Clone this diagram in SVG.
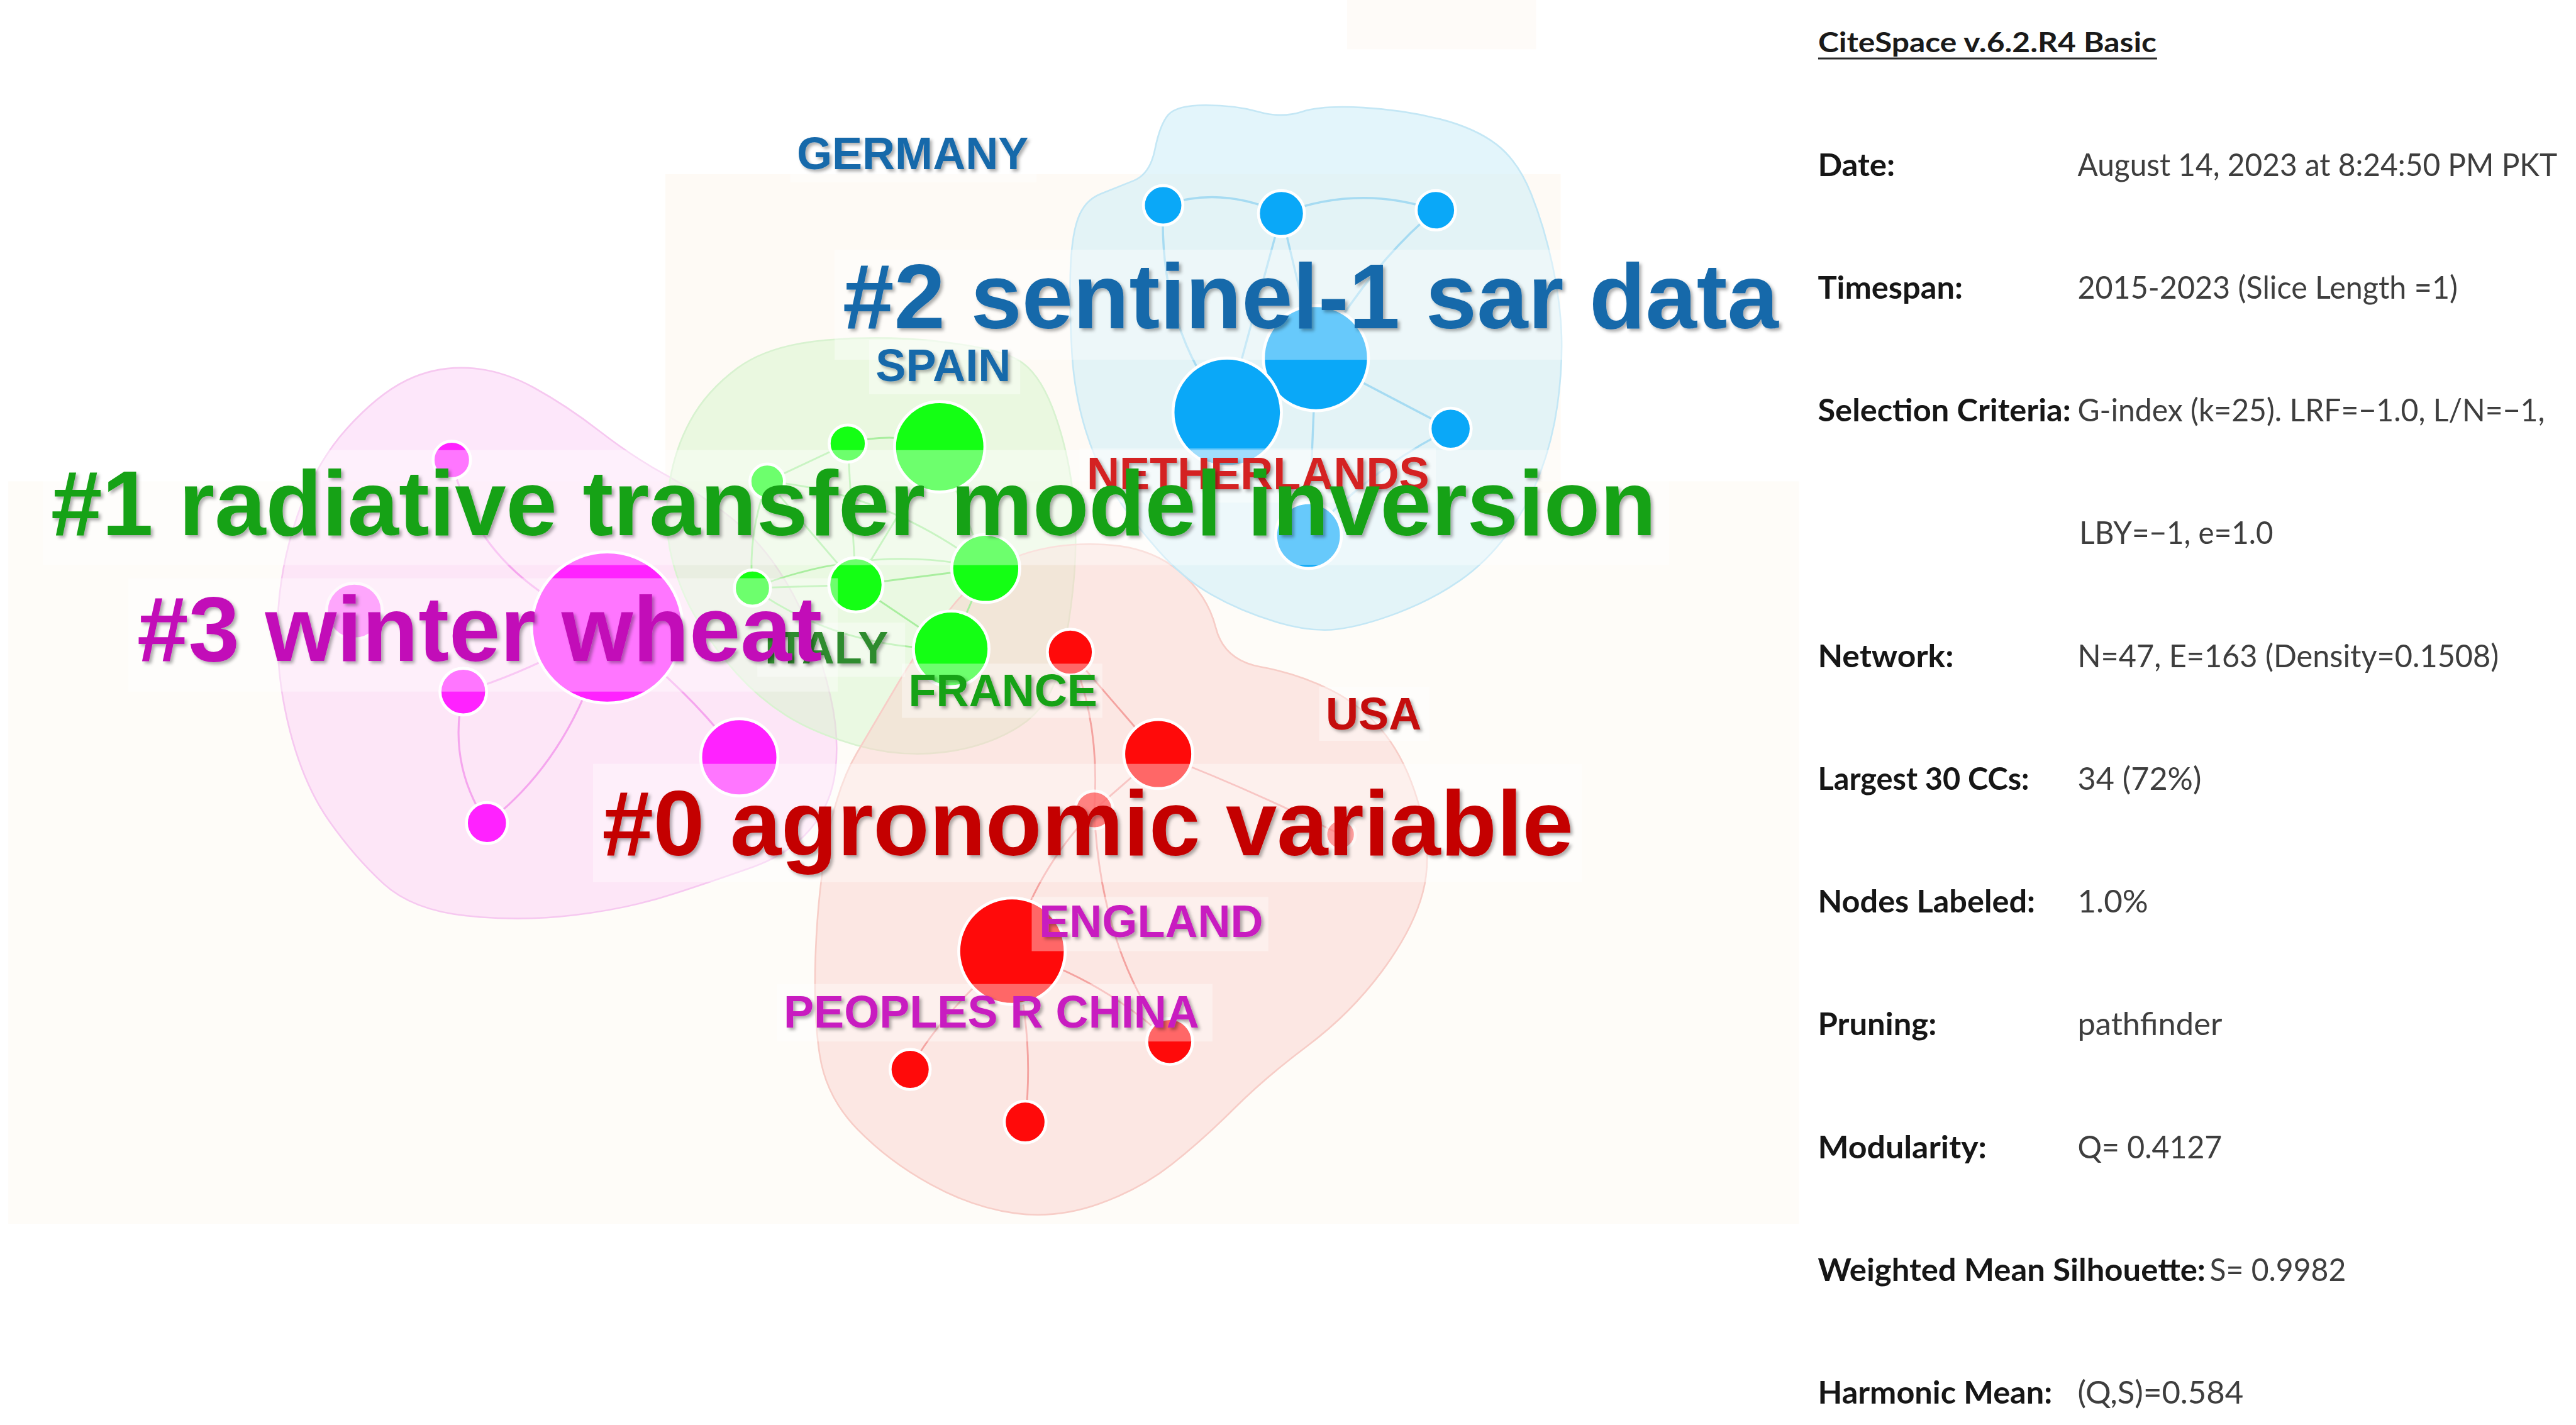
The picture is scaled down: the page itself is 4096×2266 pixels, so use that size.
<svg xmlns="http://www.w3.org/2000/svg" width="4096" height="2266" viewBox="0 0 4096 2266">
<defs>
<style>
.hull{stroke-width:1}
.eb{fill:none;stroke:#a6dbf2;stroke-width:1.3}
.eg{fill:none;stroke:#a9ee9f;stroke-width:1.1}
.ep{fill:none;stroke:#f5a6ee;stroke-width:1.2}
.er{fill:none;stroke:#f4a3a0;stroke-width:1.1}
.nb{fill:#0aa8f8;stroke:#fff;stroke-width:1.8}
.ng{fill:#14ff14;stroke:#fff;stroke-width:1.8}
.np{fill:#ff22ff;stroke:#fff;stroke-width:1.8}
.nr{fill:#ff0a0a;stroke:#fff;stroke-width:1.8}
.lbox{fill:#fff;opacity:0.38}
.big{font-family:'Liberation Sans',Arial,sans-serif;font-weight:bold;font-size:56px;filter:url(#sh)}
.sm{font-family:'Liberation Sans',Arial,sans-serif;font-weight:bold;font-size:27.6px;filter:url(#sh)}
.k{font-family:Lato,'Liberation Sans',sans-serif;font-weight:bold;font-size:19.2px;fill:#161616}
.v{font-family:Lato,'Liberation Sans',sans-serif;font-size:19.2px;fill:#3e3e3e}
</style>
<filter id="sh" x="-5%" y="-30%" width="110%" height="160%">
<feDropShadow dx="1.4" dy="1.4" stdDeviation="1" flood-color="#000" flood-opacity="0.32"/>
</filter>
</defs>
<rect width="4096" height="2266" fill="#ffffff"/>
<g transform="scale(2.61224)">
<g id="background">
<rect x="405" y="106" width="545" height="194" fill="#fbefdd" opacity="0.3"/>
<rect x="5" y="293" width="1090" height="452" fill="#fbf0df" opacity="0.22"/>
<rect x="820" y="0" width="115" height="30" fill="#fbefdd" opacity="0.22"/>
</g>
<g id="hulls">
<path id="hull-pink" class="hull" fill="#fbd0f5" fill-opacity="0.5" stroke="#f6c8f0" d="M211,261 Q230,240 247.5,231.5 Q265,223 285,224 Q305,225 325,236 Q345,247 365,262.5 Q385,278 405,289 Q425,300 441.5,312.5 Q458,325 470,341.5 Q482,358 491,379 Q500,400 505.5,424 Q511,448 508.5,469 Q506,490 493,505 Q480,520 459,527.5 Q438,535 410.5,544 Q383,553 350,557 Q317,561 284,557.5 Q251,554 233.5,538 Q216,522 200.5,500 Q185,478 176.5,445 Q168,412 169,379 Q170,346 181,314 Q192,282 211,261 Z"/>
<path id="hull-green" class="hull" fill="#d6f5cc" fill-opacity="0.5" stroke="#d8f2d0" d="M420,256.5 Q430,238 449,224 Q468,210 503,207 Q538,204 572.5,208 Q607,212 619.5,219 Q632,226 640.5,248 Q649,270 652.5,296 Q656,322 654,348.5 Q652,375 646,402.5 Q640,430 620,442.5 Q600,455 573.5,458 Q547,461 521,453.5 Q495,446 478.5,435.5 Q462,425 448.5,410 Q435,395 424.5,377.5 Q414,360 409,340 Q404,320 407,297.5 Q410,275 420,256.5 Z"/>
<path id="hull-red" class="hull" fill="#fbd2cc" fill-opacity="0.48" stroke="#f7cdc7" d="M581,367.5 Q600,345 622.5,337.5 Q645,330 672.5,331.5 Q700,333 717.5,347.5 Q735,362 740,382 Q745,402 767.5,406 Q790,410 810,420 Q830,430 843.5,447.5 Q857,465 864.5,493 Q872,521 866,543.5 Q860,566 841,591.5 Q822,617 796,636.5 Q770,656 751,675 Q732,694 713,709 Q694,724 668.5,733 Q643,742 617.5,738.5 Q592,735 566.5,721 Q541,707 522,687.5 Q503,668 499,642.5 Q495,617 496.5,579 Q498,541 504,509.5 Q510,478 521.5,458.5 Q533,439 547.5,414.5 Q562,390 581,367.5 Z"/>
<path id="hull-blue" class="hull" fill="#c8ebf8" fill-opacity="0.5" stroke="#c4e7f5" d="M703,91 Q706,76 711,70 Q716,64 734,64 Q752,64 766,68 Q780,72 792.5,68 Q805,64 830,65.5 Q855,67 876.5,72.5 Q898,78 911,88 Q924,98 932,118 Q940,138 945,161.5 Q950,185 950.5,205 Q951,225 948,246.5 Q945,268 937.5,288 Q930,308 917.5,325 Q905,342 888.5,353.5 Q872,365 851,373 Q830,381 814,383 Q798,385 776.5,378.5 Q755,372 737.5,362 Q720,352 705,335 Q690,318 679,301.5 Q668,285 661,262.5 Q654,240 652.5,215 Q651,190 651.5,167.5 Q652,145 656,133.5 Q660,122 670,118 Q680,114 690,110 Q700,106 703,91 Z"/>
</g>
<g id="connectors">
<path class="eb" d="M708,125 Q744,113 780,130"/>
<path class="eb" d="M780,130 Q827,112 874,128"/>
<path class="eb" d="M708,125 Q705,200 747,251"/>
<path class="eb" d="M780,130 L747,251"/>
<path class="eb" d="M780,130 L801,218"/>
<path class="eb" d="M874,128 Q835,160 801,218"/>
<path class="eb" d="M801,218 L883,261"/>
<path class="eb" d="M801,218 L796.5,326"/>
<path class="eb" d="M883,261 Q835,285 796.5,326"/>
<path class="eg" d="M467,293 L516,270"/>
<path class="eg" d="M467,293 Q455,325 458,358"/>
<path class="eg" d="M467,293 L521,356"/>
<path class="eg" d="M516,270 L521,356"/>
<path class="eg" d="M516,270 Q545,262 572,272"/>
<path class="eg" d="M572,272 L521,356"/>
<path class="eg" d="M572,272 L600,346"/>
<path class="eg" d="M458,358 L521,356"/>
<path class="eg" d="M458,358 Q530,330 600,346"/>
<path class="eg" d="M458,358 Q510,395 579,395"/>
<path class="eg" d="M521,356 L600,346"/>
<path class="eg" d="M521,356 L579,395"/>
<path class="eg" d="M600,346 L579,395"/>
<path class="eg" d="M467,293 Q540,300 600,346"/>
<path class="ep" d="M275,280 Q290,350 369.6,382"/>
<path class="ep" d="M369.6,382 Q320,410 282,421"/>
<path class="ep" d="M282,421 Q272,465 296.4,501"/>
<path class="ep" d="M369.6,382 Q350,460 296.4,501"/>
<path class="ep" d="M369.6,382 Q420,420 450,461"/>
<path class="er" d="M651.5,397 L705,459"/>
<path class="er" d="M651.5,397 Q670,440 666,493"/>
<path class="er" d="M705,459 L666,493"/>
<path class="er" d="M705,459 Q760,480 816,508"/>
<path class="er" d="M666,493 Q630,530 616,579"/>
<path class="er" d="M666,493 Q670,580 712,634"/>
<path class="er" d="M616,579 Q670,595 712,634"/>
<path class="er" d="M616,579 Q570,620 554,651"/>
<path class="er" d="M616,579 Q630,630 624,683"/>
</g>
<g id="nodes">
<g id="node-b1"><circle class="nb" cx="708" cy="125" r="12"/></g>
<g id="node-b2"><circle class="nb" cx="780" cy="130" r="14"/></g>
<g id="node-b3"><circle class="nb" cx="874" cy="128" r="12"/></g>
<g id="node-b4"><circle class="nb" cx="801" cy="218" r="32"/></g>
<g id="node-b5"><circle class="nb" cx="747" cy="251" r="33"/></g>
<g id="node-b6"><circle class="nb" cx="883" cy="261" r="12.5"/></g>
<g id="node-b7"><circle class="nb" cx="796.5" cy="326" r="20"/></g>
<g id="node-g1"><circle class="ng" cx="516" cy="270" r="11.3"/></g>
<g id="node-g2"><circle class="ng" cx="572" cy="272" r="27.5"/></g>
<g id="node-g3"><circle class="ng" cx="467" cy="293" r="10.5"/></g>
<g id="node-g4"><circle class="ng" cx="600" cy="346" r="20.7"/></g>
<g id="node-g5"><circle class="ng" cx="521" cy="356" r="16.5"/></g>
<g id="node-g6"><circle class="ng" cx="458" cy="358" r="11"/></g>
<g id="node-g7"><circle class="ng" cx="579" cy="395" r="23"/></g>
<g id="node-p1"><circle class="np" cx="275" cy="280" r="11.4"/></g>
<g id="node-p2"><circle class="np" cx="369.6" cy="382" r="46"/></g>
<g id="node-p3"><circle class="np" cx="215.7" cy="372" r="17" opacity="0.6"/></g>
<g id="node-p4"><circle class="np" cx="282" cy="421" r="14.2"/></g>
<g id="node-p5"><circle class="np" cx="450" cy="461" r="23.5"/></g>
<g id="node-p6"><circle class="np" cx="296.4" cy="501" r="12.5"/></g>
<g id="node-r1"><circle class="nr" cx="651.5" cy="397" r="14"/></g>
<g id="node-r2"><circle class="nr" cx="705" cy="459" r="21"/></g>
<g id="node-r3"><circle class="nr" cx="666" cy="493" r="11.5" opacity="0.8"/></g>
<g id="node-r4"><circle class="nr" cx="816" cy="508" r="9" opacity="0.6"/></g>
<g id="node-r5"><circle class="nr" cx="616" cy="579" r="32.4"/></g>
<g id="node-r6"><circle class="nr" cx="712" cy="634" r="14"/></g>
<g id="node-r7"><circle class="nr" cx="554" cy="651" r="12.2"/></g>
<g id="node-r8"><circle class="nr" cx="624" cy="683" r="12.7"/></g>
</g>
<g id="label-boxes">
<rect class="lbox" x="508" y="152" width="580" height="67"/>
<rect class="lbox" x="26" y="274" width="990" height="70"/>
<rect class="lbox" x="78" y="352" width="432" height="69"/>
<rect class="lbox" x="361" y="465" width="602" height="72"/>
<rect class="lbox" x="481" y="78" width="150" height="33"/>
<rect class="lbox" x="529" y="207" width="92" height="33"/>
<rect class="lbox" x="657" y="273" width="217" height="33"/>
<rect class="lbox" x="461" y="379" width="90" height="33"/>
<rect class="lbox" x="549" y="404" width="122" height="33"/>
<rect class="lbox" x="803" y="418" width="67" height="33"/>
<rect class="lbox" x="628" y="546" width="144" height="33"/>
<rect class="lbox" x="473" y="599" width="265" height="35"/>
</g>
<g id="labels">
<text class="sm" x="485" y="103" fill="#1769aa">GERMANY</text>
<text class="sm" x="533" y="232" fill="#1769aa">SPAIN</text>
<text class="sm" x="661.5" y="298" fill="#d42222">NETHERLANDS</text>
<text class="sm" x="465.5" y="404" fill="#2e8b2e">ITALY</text>
<text class="sm" x="553" y="430" fill="#14a214">FRANCE</text>
<text class="sm" x="807" y="444" fill="#c40a0a">USA</text>
<text class="sm" x="632.5" y="570.5" fill="#c81fc0">ENGLAND</text>
<text class="sm" x="477" y="625.5" fill="#c81fc0">PEOPLES R CHINA</text>
<text class="big" x="513" y="200" fill="#1769aa">#2 sentinel-1 sar data</text>
<text class="big" x="31" y="325.6" fill="#14a214">#1 radiative transfer model inversion</text>
<text class="big" x="83.5" y="402.2" fill="#c20fb8">#3 winter wheat</text>
<text class="big" x="366.5" y="520.5" fill="#c40000">#0 agronomic variable</text>
</g>
<g id="info-panel">
<text x="1106.7" y="31.6" font-family="Lato,'Liberation Sans',sans-serif" font-weight="bold" font-size="17" fill="#1a1a1a" textLength="206" lengthAdjust="spacingAndGlyphs">CiteSpace v.6.2.R4 Basic</text>
<line x1="1106.7" y1="35.6" x2="1313" y2="35.6" stroke="#2a2a2a" stroke-width="1.2"/>
<text class="k" x="1106.5" y="107" textLength="47" lengthAdjust="spacingAndGlyphs">Date:</text>
<text class="v" x="1264.6" y="107" textLength="292" lengthAdjust="spacingAndGlyphs">August 14, 2023 at 8:24:50 PM PKT</text>
<text class="k" x="1106.5" y="181.7" textLength="88.3" lengthAdjust="spacingAndGlyphs">Timespan:</text>
<text class="v" x="1264.6" y="181.7" textLength="231.4" lengthAdjust="spacingAndGlyphs">2015-2023 (Slice Length =1)</text>
<text class="k" x="1106.5" y="256.5" textLength="154" lengthAdjust="spacingAndGlyphs">Selection Criteria:</text>
<text class="v" x="1264.6" y="256.5" textLength="284.4" lengthAdjust="spacingAndGlyphs">G-index (k=25). LRF=−1.0, L/N=−1,</text>
<text class="v" x="1265.7" y="331.3" textLength="118" lengthAdjust="spacingAndGlyphs">LBY=−1, e=1.0</text>
<text class="k" x="1106.5" y="406" textLength="82.7" lengthAdjust="spacingAndGlyphs">Network:</text>
<text class="v" x="1264.6" y="406" textLength="256.4" lengthAdjust="spacingAndGlyphs">N=47, E=163 (Density=0.1508)</text>
<text class="k" x="1106.5" y="480.8" textLength="128.7" lengthAdjust="spacingAndGlyphs">Largest 30 CCs:</text>
<text class="v" x="1264.6" y="480.8" textLength="75.4" lengthAdjust="spacingAndGlyphs">34 (72%)</text>
<text class="k" x="1106.5" y="555.5" textLength="132.3" lengthAdjust="spacingAndGlyphs">Nodes Labeled:</text>
<text class="v" x="1264.6" y="555.5" textLength="43" lengthAdjust="spacingAndGlyphs">1.0%</text>
<text class="k" x="1106.5" y="630.3" textLength="72.3" lengthAdjust="spacingAndGlyphs">Pruning:</text>
<text class="v" x="1264.6" y="630.3" textLength="88" lengthAdjust="spacingAndGlyphs">pathfinder</text>
<text class="k" x="1106.5" y="705" textLength="102.8" lengthAdjust="spacingAndGlyphs">Modularity:</text>
<text class="v" x="1264.6" y="705" textLength="88" lengthAdjust="spacingAndGlyphs">Q= 0.4127</text>
<text class="k" x="1106.5" y="779.8" textLength="236" lengthAdjust="spacingAndGlyphs">Weighted Mean Silhouette:</text>
<text class="v" x="1345" y="779.8" textLength="83" lengthAdjust="spacingAndGlyphs">S= 0.9982</text>
<text class="k" x="1106.5" y="854.6" textLength="142.7" lengthAdjust="spacingAndGlyphs">Harmonic Mean:</text>
<text class="v" x="1264.6" y="854.6" textLength="101" lengthAdjust="spacingAndGlyphs">(Q,S)=0.584</text>
</g>
</g>
</svg>
